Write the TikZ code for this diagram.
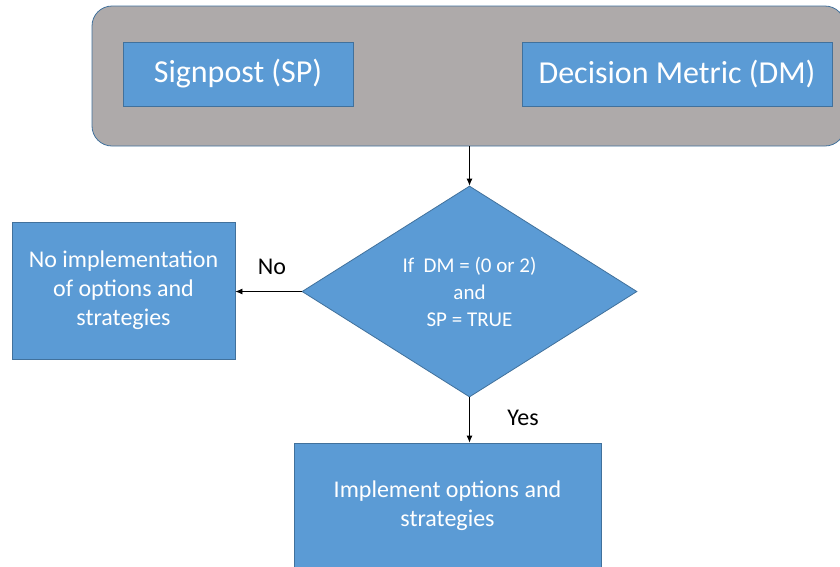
\documentclass[tikz,border=0pt]{standalone}
\usepackage{fontspec}
\setmainfont{Carlito}
\usepackage{xcolor}
\usetikzlibrary{shapes.geometric, arrows.meta, positioning, calc}

\definecolor{boxblue}{HTML}{5B9BD5}
\definecolor{edgeblue}{HTML}{41719C}
\definecolor{panelgray}{HTML}{AEAAAA}

\tikzset{
  bluebox/.style={draw=edgeblue, line width=0.8pt, rectangle, fill=boxblue, text=white, align=center, inner sep=0pt},
  flowarrow/.style={-{Latex[length=7pt, width=6pt]}, line width=0.8pt, black}
}

\begin{document}
\begin{tikzpicture}[x=1pt, y=-1pt]
\useasboundingbox (0,0) rectangle (840,566);

% Top panel with the two inputs
\node[draw=edgeblue, line width=0.8pt, fill=panelgray, rounded corners=20pt, minimum width=753pt, minimum height=140pt, inner sep=0pt] (panel) at (468.5,76) {};
\node[bluebox, minimum width=230pt, minimum height=64pt, font=\fontsize{32}{38}\selectfont] (signpost) at (238,74) {Signpost (SP)};
\node[bluebox, minimum width=310pt, minimum height=64pt, font=\fontsize{32}{38}\selectfont] (metric) at (677,74) {Decision Metric (DM)};

% Decision
\node[draw=edgeblue, line width=0.8pt, diamond, aspect=1.59, fill=boxblue, text=white, align=center, inner sep=0pt, minimum width=335pt, minimum height=211pt, font=\fontsize{21}{27}\selectfont] (decide) at (469.5,291.5) {If\ \ DM = (0 or 2)\\and\\SP = TRUE};

% Outcomes
\node[bluebox, minimum width=223pt, minimum height=137pt, font=\fontsize{24}{29}\selectfont] (noimpl) at (123.5,290.5) {No implementation\\of options and\\strategies};
\node[bluebox, minimum width=307pt, minimum height=126pt, font=\fontsize{24}{29}\selectfont] (impl) at (447.5,506) {Implement options and\\strategies};

% Arrows
\draw[flowarrow] (panel.south -| decide.north) -- (decide.north);
\draw[flowarrow] (decide.west) -- (decide.west -| noimpl.east);
\draw[flowarrow] (decide.south) -- (decide.south |- impl.north);

% Labels
\node[font=\fontsize{24}{29}\selectfont] (nolabel) at (272,267) {No};
\node[font=\fontsize{24}{29}\selectfont] (yeslabel) at (523,418) {Yes};
\end{tikzpicture}
\end{document}
